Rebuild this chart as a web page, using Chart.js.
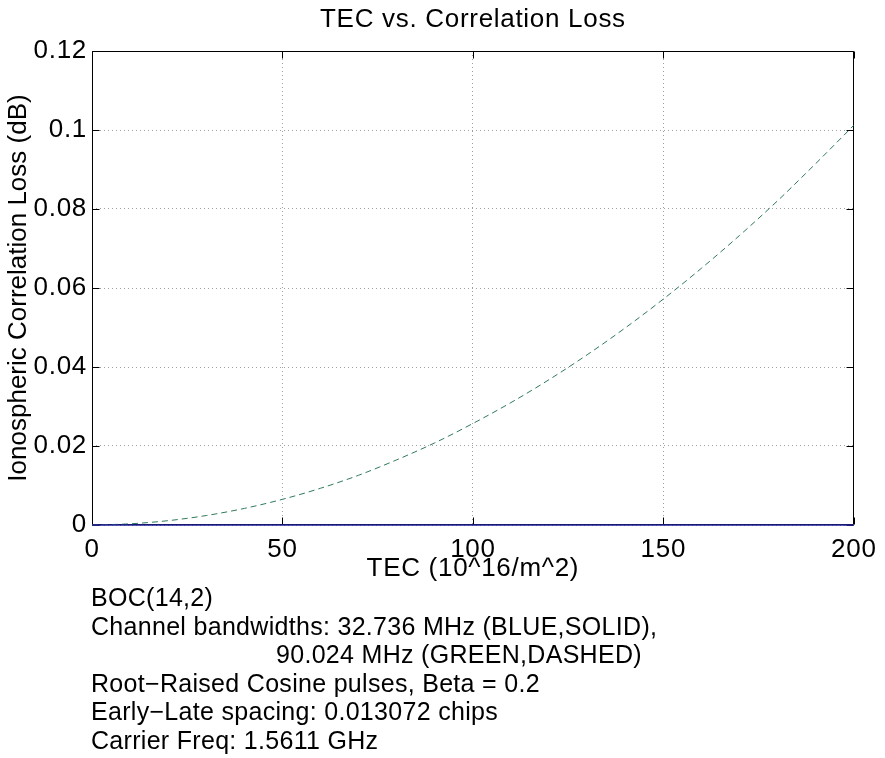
<!DOCTYPE html>
<html>
<head>
<meta charset="utf-8">
<script src="https://cdn.jsdelivr.net/npm/chart.js@4/dist/chart.umd.min.js"></script>
<style>
  html, body { margin: 0; padding: 0; background: #fff; }
  body { width: 885px; height: 758px; position: relative; overflow: hidden; }
  #wrap { position: absolute; left: 0; top: 0; width: 885px; height: 600px; }
  #notes { position: absolute; left: 91px; top: 583px; font-family: "Liberation Sans", Arial, sans-serif;
           font-size: 25px; letter-spacing: 0.3px; line-height: 28.6px; color: #000; white-space: pre; }
  #notes .indent { padding-left: 185px; }
</style>
</head>
<body>
<div id="wrap"><canvas id="c" width="885" height="600"></canvas></div>
<div id="notes"></div>
<script>
// ---- data ----
const tec = [0, 10, 20, 30, 40, 50, 60, 70, 80, 90, 100, 110, 120, 130, 140, 150, 160, 170, 180, 190, 200];
const lossBlue = [0, 0, 0, 0, 0, 0, 0, 0, 0, 0, 0, 0, 0, 0, 0, 0, 0, 0, 0, 0, 0];
const lossGreen = [0, 0.0003, 0.0011, 0.0024, 0.0042, 0.0065, 0.0093, 0.0126, 0.0165, 0.0208, 0.0257,
                   0.0310, 0.0368, 0.0431, 0.0499, 0.0572, 0.0650, 0.0733, 0.0821, 0.0915, 0.1012];
const xTickLabels = ['0', '50', '100', '150', '200'];
const yTickLabels = ['0', '0.02', '0.04', '0.06', '0.08', '0.1', '0.12'];
const titleText = 'TEC vs. Correlation Loss';
const xTitle = 'TEC (10^16/m^2)';
const yTitle = 'Ionospheric Correlation Loss (dB)';
const notes = [
  'BOC(14,2)',
  'Channel bandwidths: 32.736 MHz (BLUE,SOLID),',
  '90.024 MHz (GREEN,DASHED)',
  'Root\u2212Raised Cosine pulses, Beta = 0.2',
  'Early\u2212Late spacing: 0.013072 chips',
  'Carrier Freq: 1.5611 GHz'
];

const notesEl = document.getElementById('notes');
notes.forEach((t, i) => {
  const d = document.createElement('div');
  d.textContent = t;
  if (i === 2) d.className = 'indent';
  notesEl.appendChild(d);
});

const FONT = '"Liberation Sans", Arial, sans-serif';

const spacingPlugin = {
  id: 'spacing',
  afterLayout(chart) {
    const s = chart.scales.y;
    if (s && !s._noSpacingTitle) {
      const orig = s.drawTitle;
      s.drawTitle = function () {
        const c = this.ctx;
        const prev = c.letterSpacing;
        c.letterSpacing = '0px';
        orig.apply(this, arguments);
        c.letterSpacing = prev;
      };
      s._noSpacingTitle = true;
    }
  },
  beforeDraw(chart) { chart.ctx.letterSpacing = '0.7px'; }
};

const boxPlugin = {
  id: 'box',
  beforeDatasetsDraw(chart) {
    const { ctx, chartArea: a, scales } = chart;
    const L = Math.round(a.left) + 0.5, R = Math.round(a.right) - 0.5;
    const T = Math.round(a.top) + 0.5, B = Math.round(a.bottom) - 0.5;
    ctx.save();
    ctx.setLineDash([]);
    ctx.strokeStyle = '#000';
    ctx.lineWidth = 1;
    ctx.beginPath();
    ctx.rect(L, T, R - L, B - T);
    // inward tick marks
    const tl = 7;
    scales.x.ticks.forEach(t => {
      const px = Math.round(scales.x.getPixelForValue(t.value)) + 0.5;
      ctx.moveTo(px, B); ctx.lineTo(px, B - tl);
      ctx.moveTo(px, T); ctx.lineTo(px, T + tl);
    });
    scales.y.ticks.forEach(t => {
      const py = Math.round(scales.y.getPixelForValue(t.value)) + 0.5;
      ctx.moveTo(L, py); ctx.lineTo(L + tl, py);
      ctx.moveTo(R, py); ctx.lineTo(R - tl, py);
    });
    ctx.stroke();
    ctx.restore();
  }
};

new Chart(document.getElementById('c'), {
  type: 'line',
  data: {
    labels: tec,
    datasets: [
      {
        label: '32.736 MHz',
        data: tec.map((x, i) => ({ x, y: lossBlue[i] })),
        borderColor: '#22229c',
        borderWidth: 1.5,
        pointRadius: 0,
        fill: false,
        clip: false
      },
      {
        label: '90.024 MHz',
        data: tec.map((x, i) => ({ x, y: lossGreen[i] })),
        borderColor: '#2f7a58',
        borderWidth: 1,
        borderDash: [6, 4],
        pointRadius: 0,
        fill: false,
        cubicInterpolationMode: 'monotone',
        clip: false
      }
    ]
  },
  options: {
    responsive: false,
    animation: false,
    devicePixelRatio: 1,
    layout: { padding: { left: 0, right: 27, top: 0, bottom: 0 } },
    plugins: {
      legend: { display: false },
      tooltip: { enabled: false },
      title: {
        display: true,
        text: titleText,
        fullSize: false,
        color: '#000',
        font: { family: FONT, size: 26, weight: 'normal', lineHeight: 1.2 },
        padding: { top: 4.15, bottom: 15.65 }
      }
    },
    scales: {
      x: {
        type: 'linear',
        min: 0, max: 200,
        afterFit(s) { s.height = 75; },
        afterBuildTicks(s) { s.ticks = xTickLabels.map(v => ({ value: Number(v) })); },
        ticks: {
          autoSkip: false, maxRotation: 0, minRotation: 0,
          padding: 9.5, color: '#000',
          font: { family: FONT, size: 26 },
          callback: (v, i) => xTickLabels[i]
        },
        grid: { color: '#a0a0a0', lineWidth: 1, drawTicks: false },
        border: { display: false, dash: [1, 3] },
        title: {
          display: true, text: xTitle, color: '#000',
          font: { family: FONT, size: 26, lineHeight: 1.2 },
          padding: { top: 0, bottom: 15.15 }
        }
      },
      y: {
        type: 'linear',
        min: 0, max: 0.12,
        afterFit(s) { s.width = 92; },
        afterBuildTicks(s) { s.ticks = yTickLabels.map(v => ({ value: Number(v) })); },
        ticks: {
          autoSkip: false, padding: 5, color: '#000',
          font: { family: FONT, size: 26 },
          callback: (v, i) => yTickLabels[i]
        },
        grid: { color: '#a0a0a0', lineWidth: 1, drawTicks: false },
        border: { display: false, dash: [1, 3] },
        title: {
          display: true, text: yTitle, color: '#000',
          font: { family: FONT, size: 26, lineHeight: 1.2 },
          padding: { top: 3.5, bottom: 0 }
        }
      }
    }
  },
  plugins: [spacingPlugin, boxPlugin]
});
</script>
</body>
</html>
